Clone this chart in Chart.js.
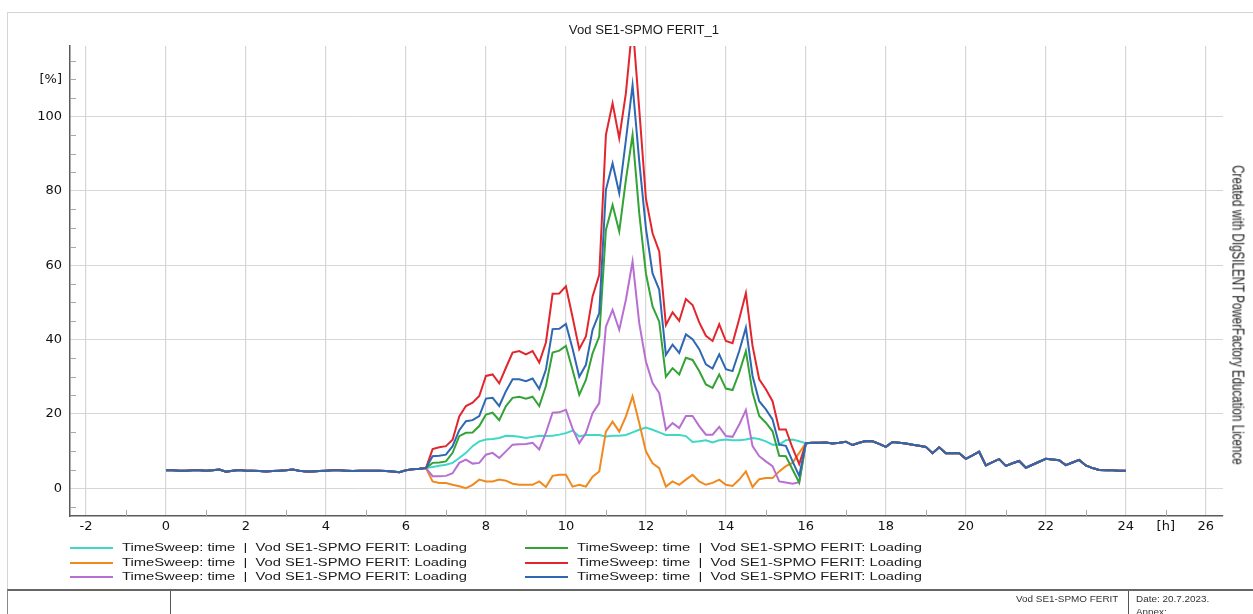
<!DOCTYPE html>
<html>
<head>
<meta charset="utf-8">
<script src="https://cdn.jsdelivr.net/npm/chart.js@4.4.0/dist/chart.umd.min.js"></script>
<style>
  body { margin: 0; background: #fff; width: 1253px; height: 614px; overflow: hidden; position: relative;
         font-family: "Liberation Sans", Arial, sans-serif; color: #1a1a1a; }
  #frame { position: absolute; left: 7px; top: 12px; width: 1260px; height: 578px;
           border-left: 1px solid #d4d4d4; border-top: 1px solid #d4d4d4; }
  #chart { position: absolute; left: 0; top: 0; }
  .title { position: absolute; left: 644px; top: 23px; font-size: 12.5px; white-space: nowrap;
           transform: translateX(-50%) scaleX(1.05); }
  .side { position: absolute; left: 1239px; top: 315px; font-size: 11.6px; white-space: nowrap;
          transform: translate(-50%, -50%) rotate(90deg) scaleY(1.45); }
  .leg { position: absolute; height: 14px; }
  .leg i { position: absolute; left: 0; top: 6px; width: 43px; height: 2px; }
  .leg span { position: absolute; left: 52px; top: 0; font-size: 11px; white-space: nowrap;
              transform: scaleX(1.34); transform-origin: left center; }
  #footer { position: absolute; left: 7px; top: 589px; width: 1260px; height: 30px;
            border-top: 2px solid #666; border-left: 1px solid #888; }
  .vline { position: absolute; top: 591px; width: 1px; height: 30px; background: #555; }
  .ft { position: absolute; font-size: 9px; white-space: nowrap; color: #333;
        transform-origin: left center; transform: scaleX(1.1); }
</style>
</head>
<body>
<div id="frame"></div>
<canvas id="chart" width="1253" height="590"></canvas>
<div class="title">Vod SE1-SPMO FERIT_1</div>
<div class="side">Created with DIgSILENT PowerFactory Education Licence</div>
<div id="legend"></div>
<div id="footer"></div>
<div class="vline" style="left:170px"></div>
<div class="vline" style="left:1128px"></div>
<div class="ft" style="left:1016px; top:594px;">Vod SE1-SPMO FERIT</div>
<div class="ft" style="left:1136px; top:594px;">Date: 20.7.2023.</div>
<div class="ft" style="left:1136px; top:607px;">Annex:</div>
<script>
// time step of the sweep: 10 minutes
const stepHours = 1 / 6;

// loading common to all cases, 0:00 - 6:20
const base0 = [4.8, 4.8, 4.7, 4.7, 4.8, 4.8, 4.7, 4.8, 5.0, 4.4, 4.7, 4.9, 4.7, 4.7, 4.6, 4.5, 4.6, 4.7, 4.8, 5.0,
  4.7, 4.5, 4.5, 4.6, 4.7, 4.8, 4.8, 4.7, 4.6, 4.7, 4.7, 4.7, 4.7, 4.6, 4.5, 4.3, 4.8, 5.1, 5.2];

// 6:30 - 16:00, one array per case
const loadCyan = [5.4, 5.7, 6.0, 6.3, 6.8, 8.1, 9.5, 11.3, 12.6, 13.1, 13.2, 13.5, 14.1, 14.0, 13.8, 13.5, 13.8, 14.1, 14.0, 14.1,
  14.4, 14.8, 15.5, 13.9, 14.3, 14.3, 14.3, 13.9, 14.1, 14.1, 14.3, 15.0, 15.7, 16.3, 15.7, 15.0, 14.3, 14.3, 14.3, 14.0,
  12.4, 12.6, 12.9, 12.3, 12.9, 13.1, 12.9, 12.9, 13.1, 13.5, 13.2, 12.6, 11.7, 11.7, 12.9, 13.1, 12.6, 12.1];
const loadOrange = [5.4, 1.8, 1.4, 1.4, 0.9, 0.5, 0.0, 0.9, 2.3, 1.8, 1.8, 2.3, 2.0, 1.2, 0.9, 0.9, 0.9, 1.8, 0.3, 3.3,
  3.6, 3.6, 0.4, 0.9, 0.4, 3.1, 4.5, 15.2, 17.9, 15.2, 19.3, 24.7, 17.5, 9.9, 6.7, 5.4, 0.4, 1.8, 0.9, 2.3,
  3.6, 1.8, 0.9, 1.4, 2.3, 0.9, 0.6, 2.3, 4.5, 0.3, 2.4, 2.7, 2.7, 4.5, 5.9, 6.8, 9.5, 12.1];
const loadPurple = [5.4, 3.2, 3.2, 3.3, 4.0, 6.8, 7.7, 6.6, 6.8, 9.0, 9.5, 8.1, 9.9, 11.7, 11.8, 11.9, 12.2, 10.4, 14.9, 20.3,
  20.4, 21.1, 16.0, 12.1, 14.8, 20.2, 22.9, 43.5, 48.0, 42.6, 50.7, 61.0, 44.4, 34.1, 28.3, 25.6, 15.7, 17.5, 16.2, 19.4,
  19.4, 16.7, 14.4, 14.4, 16.5, 14.0, 13.8, 17.1, 21.0, 11.3, 8.6, 7.2, 5.9, 1.8, 1.5, 1.2, 1.6, 12.1];
const loadGreen = [5.4, 6.8, 6.9, 7.2, 9.5, 14.0, 14.9, 15.0, 16.7, 19.8, 20.3, 18.3, 22.1, 24.3, 24.6, 24.1, 24.6, 22.1, 27.5, 36.5,
  37.0, 38.3, 31.8, 25.1, 29.1, 36.3, 40.8, 69.5, 76.2, 69.1, 83.0, 95.1, 74.0, 57.8, 48.9, 44.8, 30.0, 32.3, 30.6, 35.1,
  34.5, 31.5, 27.9, 27.0, 30.6, 26.8, 26.4, 31.1, 36.9, 25.7, 19.4, 17.6, 15.3, 8.7, 8.6, 5.0, 1.5, 12.1];
const loadRed = [5.4, 10.5, 11.0, 11.3, 13.0, 19.3, 22.1, 23.0, 24.8, 30.2, 30.6, 28.2, 32.4, 36.5, 36.9, 36.0, 36.9, 33.8, 39.2, 52.3,
  52.4, 54.3, 46.0, 37.4, 40.8, 51.6, 57.4, 95.1, 103.6, 94.2, 106.3, 125.0, 102.0, 78.0, 68.6, 63.7, 43.9, 47.3, 45.0, 50.9,
  49.3, 44.6, 41.0, 39.6, 44.1, 39.6, 39.0, 45.5, 52.5, 38.3, 29.3, 26.6, 23.4, 15.8, 15.8, 10.8, 6.5, 12.1];
const loadBlue = [5.4, 8.6, 8.7, 9.0, 11.3, 15.6, 18.0, 18.3, 19.4, 24.1, 24.3, 22.1, 26.1, 29.3, 29.3, 28.8, 29.5, 26.7, 31.9, 42.8,
  42.9, 44.2, 37.5, 30.0, 33.2, 42.6, 47.1, 80.3, 87.4, 79.4, 93.7, 108.5, 88.0, 70.0, 57.8, 53.4, 35.9, 38.6, 36.4, 41.4,
  40.1, 37.4, 33.3, 32.2, 36.0, 32.0, 31.5, 36.9, 43.2, 30.2, 23.4, 21.2, 18.5, 11.7, 11.4, 7.2, 3.3, 12.1];

// loading common to all cases, 16:10 - 24:00
const base1 = [12.2, 12.2, 12.3, 12.0, 12.2, 12.5, 11.6, 12.2, 12.7, 12.6, 11.9, 11.1, 12.4, 12.2, 12.0, 11.7, 11.4, 11.1, 9.4, 11.0,
  9.4, 9.4, 9.4, 7.9, 8.8, 9.8, 6.1, 7.0, 7.8, 6.0, 6.7, 7.3, 5.5, 6.3, 7.1, 7.9, 7.7, 7.5, 6.2, 6.9,
  7.6, 6.1, 5.4, 4.9, 4.8, 4.8, 4.7, 4.7];

const xLabels = [-2, 0, 2, 4, 6, 8, 10, 12, 14, 16, 18, 20, 22, 24, 26];
const yLabels = [0, 20, 40, 60, 80, 100];
const xUnit = { at: 25, text: "[h]" };
const yUnit = { at: 110, text: "[%]" };

const legendText = "TimeSweep: time\u00a0\u00a0|\u00a0\u00a0Vod SE1-SPMO FERIT: Loading";

const cases = [
  { data: loadCyan, color: "#3fd8c6", order: 5, col: 0, row: 0 },
  { data: loadOrange, color: "#f0891f", order: 4, col: 0, row: 1 },
  { data: loadPurple, color: "#b86fd2", order: 3, col: 0, row: 2 },
  { data: loadGreen, color: "#33a336", order: 2, col: 1, row: 0 },
  { data: loadRed, color: "#e2262e", order: 1, col: 1, row: 1 },
  { data: loadBlue, color: "#2e68b2", order: 0, col: 1, row: 2 },
];

const datasets = cases.map(function (c) {
  const full = base0.concat(c.data, base1);
  return {
    label: legendText,
    data: full.map(function (v, i) { return { x: i * stepHours, y: v }; }),
    borderColor: c.color,
    backgroundColor: c.color,
    borderWidth: 2,
    pointRadius: 0,
    tension: 0,
    fill: false,
    order: c.order,
  };
});

// legend, two columns
var legend = document.getElementById("legend");
cases.forEach(function (c) {
  var d = document.createElement("div");
  d.className = "leg";
  d.style.left = (c.col ? 525 : 70) + "px";
  d.style.top = (541 + c.row * 14.5) + "px";
  d.innerHTML = '<i style="background:' + c.color + '"></i><span>' + legendText + "</span>";
  legend.appendChild(d);
});

var minorTicks = {
  id: "minorTicks",
  beforeDatasetsDraw: function (chart) {
    var ctx = chart.ctx, xs = chart.scales.x, ys = chart.scales.y, a = chart.chartArea;
    ctx.save();
    ctx.strokeStyle = "#a8a8a8";
    ctx.lineWidth = 1;
    ys.ticks.forEach(function (t) {
      if (t.value % 20 === 0) return;
      var y = Math.round(ys.getPixelForValue(t.value)) + 0.5;
      ctx.beginPath(); ctx.moveTo(a.left, y); ctx.lineTo(a.left + 6, y); ctx.stroke();
    });
    xs.ticks.forEach(function (t) {
      if (t.value % 2 === 0) return;
      var x = Math.round(xs.getPixelForValue(t.value)) + 0.5;
      ctx.beginPath(); ctx.moveTo(x, a.bottom); ctx.lineTo(x, a.bottom - 6); ctx.stroke();
    });
    ctx.restore();
  },
};

var tickFont = { family: "DejaVu Sans", size: 13 };

var ctx = document.getElementById("chart").getContext("2d");
var myChart = new Chart(ctx, {
  type: "line",
  data: { datasets: datasets },
  plugins: [minorTicks],
  options: {
    responsive: false,
    devicePixelRatio: 1,
    animation: false,
    layout: { padding: { left: 7, top: 46, right: 30, bottom: 44 } },
    plugins: { legend: { display: false }, tooltip: { enabled: false } },
    scales: {
      x: {
        type: "linear",
        min: -2.4,
        max: 26.43,
        afterFit: function (s) { s.height = 30; },
        afterBuildTicks: function (s) {
          var t = [];
          for (var v = -2; v <= 26; v++) t.push({ value: v });
          s.ticks = t;
        },
        ticks: {
          autoSkip: false,
          maxRotation: 0,
          padding: 3,
          color: "#111",
          font: tickFont,
          callback: function (v) {
            if (v === xUnit.at) return xUnit.text;
            return xLabels.indexOf(v) >= 0 ? String(v) : "";
          },
        },
        grid: {
          drawTicks: false,
          color: function (c) { return c.tick && c.tick.value % 2 === 0 ? "#d6d6d6" : "rgba(0,0,0,0)"; },
          lineWidth: 1.2,
        },
        border: { color: "#5a5a5a", width: 1.5 },
      },
      y: {
        type: "linear",
        min: -7.5,
        max: 119,
        afterFit: function (s) { s.width = 63; },
        afterBuildTicks: function (s) {
          var t = [];
          for (var v = -5; v <= 115; v += 5) t.push({ value: v });
          s.ticks = t;
        },
        ticks: {
          autoSkip: false,
          padding: 8,
          color: "#111",
          font: tickFont,
          callback: function (v) {
            if (v === yUnit.at) return yUnit.text;
            return yLabels.indexOf(v) >= 0 ? String(v) : "";
          },
        },
        grid: {
          drawTicks: false,
          color: function (c) { return c.tick && yLabels.indexOf(c.tick.value) >= 0 ? "#d6d6d6" : "rgba(0,0,0,0)"; },
        },
        border: { color: "#5a5a5a", width: 1.5 },
      },
    },
  },
});
</script>
</body>
</html>
